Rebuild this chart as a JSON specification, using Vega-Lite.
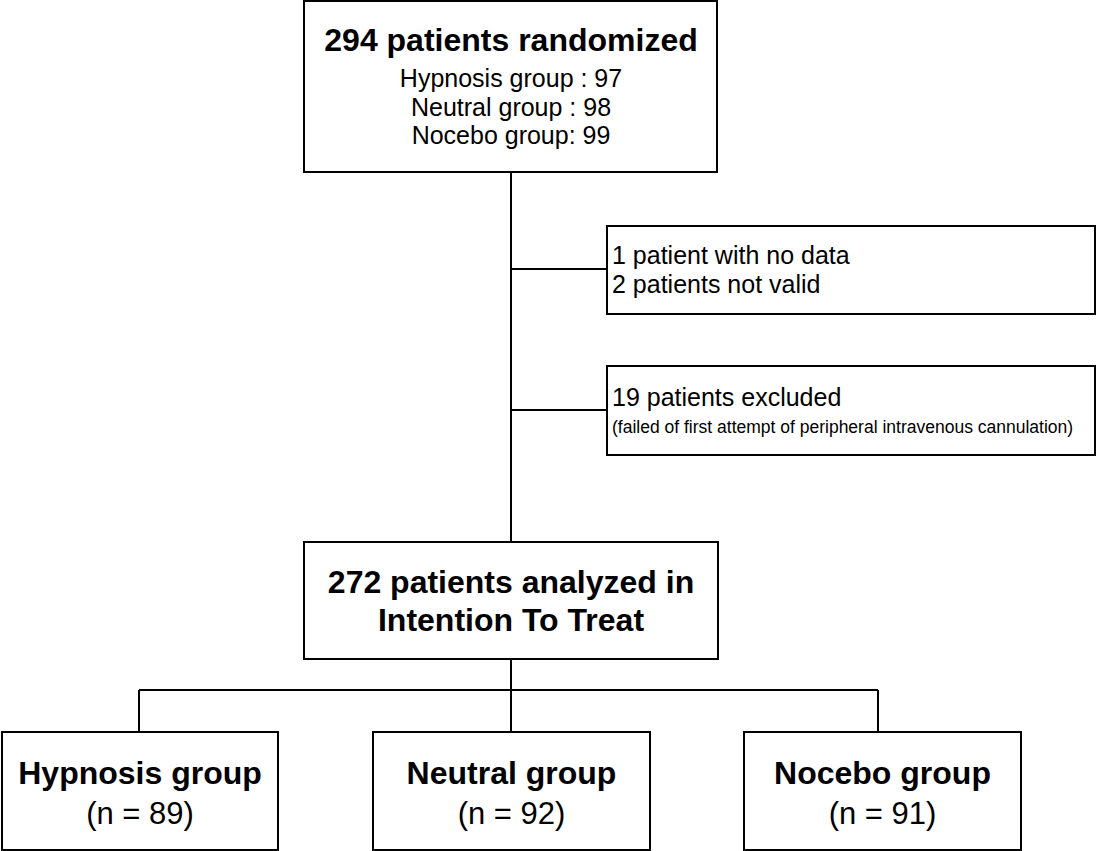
{
  "$schema": "https://vega.github.io/schema/vega-lite/v6.json",
  "width": 1096,
  "height": 851,
  "autosize": {"type": "fit", "contains": "padding"},
  "padding": 0,
  "background": "white",
  "config": {"view": {"stroke": null}, "text": {"font": "Liberation Sans"}},
  "datasets": {
    "boxes": [
      {"id": "randomized", "x": 304, "x2": 717, "y": 1, "y2": 172},
      {"id": "nodata", "x": 607, "x2": 1095, "y": 226, "y2": 314},
      {"id": "excluded", "x": 607, "x2": 1095, "y": 366, "y2": 455},
      {"id": "itt", "x": 304, "x2": 718, "y": 542, "y2": 659},
      {"id": "hypnosis", "x": 2, "x2": 278, "y": 732, "y2": 850},
      {"id": "neutral", "x": 373, "x2": 650, "y": 732, "y2": 850},
      {"id": "nocebo", "x": 744, "x2": 1021, "y": 732, "y2": 850}
    ],
    "connectors": [
      {"x": 511, "y": 172, "x2": 511, "y2": 542},
      {"x": 511, "y": 269, "x2": 607, "y2": 269},
      {"x": 511, "y": 410, "x2": 607, "y2": 410},
      {"x": 511, "y": 659, "x2": 511, "y2": 732},
      {"x": 139, "y": 690, "x2": 878, "y2": 690},
      {"x": 139, "y": 690, "x2": 139, "y2": 732},
      {"x": 878, "y": 690, "x2": 878, "y2": 732}
    ],
    "titles": [
      {"x": 511, "y": 51, "text": "294 patients randomized"},
      {"x": 511, "y": 593, "text": "272 patients analyzed in"},
      {"x": 511, "y": 631, "text": "Intention To Treat"},
      {"x": 140, "y": 784, "text": "Hypnosis group"},
      {"x": 511.5, "y": 784, "text": "Neutral group"},
      {"x": 882.5, "y": 784, "text": "Nocebo group"}
    ],
    "counts": [
      {"x": 140, "y": 824, "text": "(n = 89)"},
      {"x": 511.5, "y": 824, "text": "(n = 92)"},
      {"x": 882.5, "y": 824, "text": "(n = 91)"}
    ],
    "arms": [
      {"x": 511, "y": 87, "text": "Hypnosis group : 97"},
      {"x": 511, "y": 116, "text": "Neutral group : 98"},
      {"x": 511, "y": 144, "text": "Nocebo group: 99"}
    ],
    "side": [
      {"x": 612, "y": 264, "text": "1 patient with no data"},
      {"x": 612, "y": 293, "text": "2 patients not valid"},
      {"x": 612, "y": 406, "text": "19 patients excluded"}
    ],
    "note": [
      {"x": 612, "y": 433, "text": "(failed of first attempt of peripheral intravenous cannulation)"}
    ]
  },
  "layer": [
    {
      "data": {"name": "boxes"},
      "mark": {"type": "rect", "fill": "white", "stroke": "black", "strokeWidth": 2},
      "encoding": {
        "x": {"field": "x", "type": "quantitative", "scale": {"domain": [0, 1096], "nice": false, "zero": false}, "axis": null},
        "x2": {"field": "x2"},
        "y": {"field": "y", "type": "quantitative", "scale": {"domain": [0, 851], "nice": false, "zero": false, "reverse": true}, "axis": null},
        "y2": {"field": "y2"}
      }
    },
    {
      "data": {"name": "connectors"},
      "mark": {"type": "rule", "stroke": "black", "strokeWidth": 2},
      "encoding": {
        "x": {"field": "x", "type": "quantitative"},
        "x2": {"field": "x2"},
        "y": {"field": "y", "type": "quantitative"},
        "y2": {"field": "y2"}
      }
    },
    {
      "data": {"name": "titles"},
      "mark": {"type": "text", "fontSize": 32, "fontWeight": "bold", "align": "center", "baseline": "alphabetic", "color": "black"},
      "encoding": {
        "x": {"field": "x", "type": "quantitative"},
        "y": {"field": "y", "type": "quantitative"},
        "text": {"field": "text"}
      }
    },
    {
      "data": {"name": "counts"},
      "mark": {"type": "text", "fontSize": 31, "align": "center", "baseline": "alphabetic", "color": "black"},
      "encoding": {
        "x": {"field": "x", "type": "quantitative"},
        "y": {"field": "y", "type": "quantitative"},
        "text": {"field": "text"}
      }
    },
    {
      "data": {"name": "arms"},
      "mark": {"type": "text", "fontSize": 25, "align": "center", "baseline": "alphabetic", "color": "black"},
      "encoding": {
        "x": {"field": "x", "type": "quantitative"},
        "y": {"field": "y", "type": "quantitative"},
        "text": {"field": "text"}
      }
    },
    {
      "data": {"name": "side"},
      "mark": {"type": "text", "fontSize": 25, "align": "left", "baseline": "alphabetic", "color": "black"},
      "encoding": {
        "x": {"field": "x", "type": "quantitative"},
        "y": {"field": "y", "type": "quantitative"},
        "text": {"field": "text"}
      }
    },
    {
      "data": {"name": "note"},
      "mark": {"type": "text", "fontSize": 17.5, "align": "left", "baseline": "alphabetic", "color": "black"},
      "encoding": {
        "x": {"field": "x", "type": "quantitative"},
        "y": {"field": "y", "type": "quantitative"},
        "text": {"field": "text"}
      }
    }
  ]
}
